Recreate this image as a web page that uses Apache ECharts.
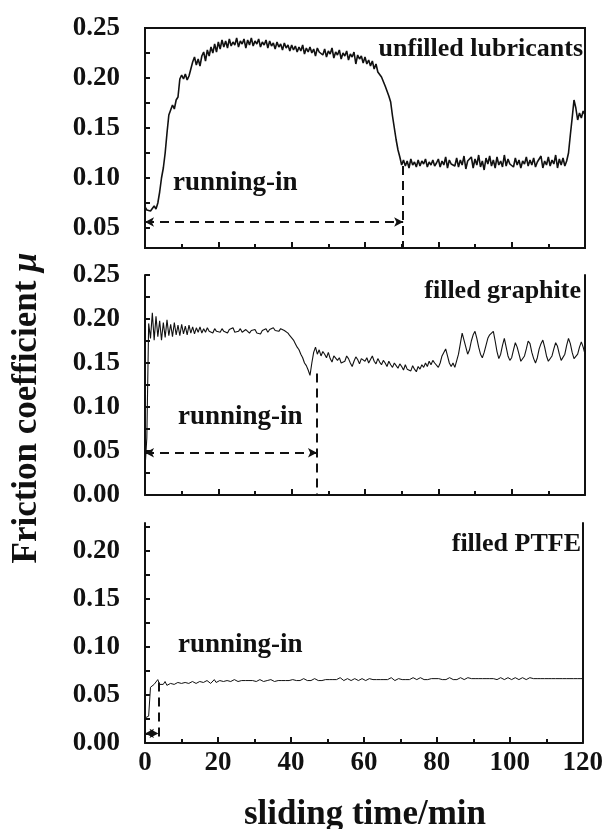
<!DOCTYPE html>
<html>
<head>
<meta charset="utf-8">
<script src="https://cdn.jsdelivr.net/npm/echarts@6/dist/echarts.min.js"></script>
<style>
html,body{margin:0;padding:0;background:#fff;}
#c{width:606px;height:829px;}
</style>
</head>
<body>
<div id="c"></div>
<script>
// ---- data (sampled every 0.5 min, from t = 0 to 120 min) ----
var timeStart = 0;
var timeStep = 0.5;

var unfilledLubricants = [
0.071,0.068,0.070,0.067,0.069,0.072,0.069,0.075,0.086,0.100,
0.110,0.125,0.145,0.163,0.168,0.173,0.169,0.178,0.181,0.199,
0.203,0.199,0.204,0.198,0.202,0.200,0.216,0.221,0.213,0.219,
0.212,0.222,0.226,0.217,0.228,0.222,0.231,0.225,0.234,0.226,
0.236,0.229,0.238,0.231,0.237,0.230,0.239,0.232,0.236,0.233,
0.240,0.231,0.237,0.234,0.239,0.230,0.238,0.233,0.240,0.232,
0.237,0.234,0.239,0.231,0.236,0.233,0.238,0.230,0.237,0.232,
0.235,0.229,0.236,0.231,0.234,0.228,0.235,0.230,0.233,0.227,
0.233,0.228,0.232,0.226,0.231,0.227,0.233,0.224,0.230,0.226,
0.231,0.225,0.229,0.222,0.230,0.226,0.228,0.223,0.229,0.221,
0.227,0.224,0.230,0.220,0.226,0.223,0.228,0.219,0.225,0.222,
0.227,0.218,0.224,0.221,0.226,0.214,0.223,0.219,0.222,0.215,
0.221,0.214,0.218,0.212,0.217,0.209,0.214,0.206,0.208,0.201,
0.199,0.192,0.190,0.182,0.176,0.162,0.150,0.138,0.128,0.121,
0.113,0.118,0.112,0.117,0.110,0.119,0.113,0.116,0.111,0.118,
0.112,0.117,0.114,0.119,0.111,0.116,0.113,0.118,0.112,0.115,
0.119,0.111,0.117,0.113,0.121,0.110,0.118,0.114,0.116,0.112,
0.120,0.111,0.118,0.113,0.122,0.109,0.117,0.115,0.121,0.110,
0.119,0.113,0.123,0.111,0.117,0.108,0.120,0.114,0.122,0.112,
0.118,0.110,0.121,0.113,0.117,0.111,0.123,0.112,0.119,0.114,
0.116,0.111,0.120,0.113,0.118,0.110,0.117,0.114,0.121,0.112,
0.118,0.113,0.120,0.111,0.116,0.114,0.122,0.110,0.117,0.113,
0.121,0.112,0.118,0.114,0.123,0.110,0.119,0.113,0.120,0.112,
0.117,0.125,0.143,0.160,0.178,0.170,0.158,0.165,0.160,0.167,
0.163
];

var filledGraphite = [
0.030,0.065,0.195,0.178,0.207,0.176,0.203,0.180,0.198,0.176,
0.196,0.179,0.199,0.181,0.194,0.180,0.196,0.182,0.193,0.181,
0.194,0.183,0.192,0.182,0.193,0.184,0.191,0.183,0.190,0.185,
0.191,0.184,0.189,0.185,0.190,0.186,0.188,0.184,0.189,0.186,
0.188,0.185,0.189,0.186,0.187,0.184,0.188,0.186,0.190,0.185,
0.187,0.186,0.189,0.185,0.187,0.188,0.186,0.184,0.187,0.185,
0.188,0.184,0.186,0.183,0.187,0.186,0.189,0.185,0.188,0.186,
0.190,0.187,0.188,0.186,0.189,0.190,0.187,0.185,0.184,0.181,
0.180,0.176,0.172,0.168,0.165,0.160,0.156,0.150,0.147,0.142,
0.136,0.150,0.162,0.168,0.160,0.165,0.158,0.163,0.160,0.156,
0.162,0.155,0.151,0.158,0.160,0.153,0.156,0.150,0.148,0.152,
0.158,0.155,0.150,0.146,0.152,0.157,0.154,0.149,0.155,0.157,
0.152,0.156,0.150,0.154,0.158,0.152,0.149,0.155,0.151,0.148,
0.153,0.150,0.146,0.152,0.148,0.145,0.150,0.147,0.144,0.149,
0.146,0.142,0.148,0.143,0.145,0.141,0.147,0.143,0.140,0.146,
0.143,0.148,0.145,0.150,0.146,0.152,0.148,0.153,0.150,0.151,
0.145,0.150,0.158,0.162,0.166,0.158,0.150,0.146,0.150,0.145,
0.147,0.160,0.172,0.184,0.176,0.168,0.160,0.165,0.175,0.182,
0.186,0.178,0.168,0.160,0.156,0.162,0.170,0.178,0.182,0.184,
0.186,0.175,0.163,0.155,0.160,0.170,0.178,0.168,0.158,0.153,
0.156,0.165,0.173,0.168,0.160,0.152,0.151,0.158,0.166,0.175,
0.172,0.162,0.155,0.150,0.156,0.166,0.172,0.176,0.168,0.158,
0.152,0.150,0.158,0.166,0.173,0.169,0.160,0.153,0.152,0.160,
0.170,0.178,0.172,0.162,0.155,0.153,0.160,0.168,0.174,0.168,
0.160
];

var filledPTFE = [
0.026,0.026,0.028,0.058,0.060,0.061,0.060,0.066,0.061,0.059,
0.061,0.064,0.060,0.059,0.062,0.064,0.061,0.060,0.063,0.065,
0.062,0.060,0.063,0.065,0.062,0.061,0.064,0.065,0.062,0.061,
0.064,0.066,0.063,0.062,0.065,0.064,0.062,0.064,0.066,0.063,
0.063,0.065,0.066,0.064,0.063,0.065,0.066,0.064,0.064,0.066,
0.065,0.064,0.066,0.065,0.064,0.065,0.066,0.065,0.064,0.065,
0.066,0.064,0.065,0.066,0.065,0.064,0.066,0.065,0.065,0.066,
0.065,0.064,0.066,0.065,0.066,0.065,0.064,0.065,0.066,0.065,
0.065,0.066,0.067,0.065,0.066,0.065,0.066,0.067,0.066,0.065,
0.066,0.065,0.066,0.067,0.066,0.065,0.066,0.065,0.067,0.066,
0.065,0.066,0.067,0.066,0.065,0.066,0.067,0.068,0.066,0.065,
0.066,0.067,0.066,0.065,0.066,0.067,0.066,0.065,0.066,0.067,
0.066,0.065,0.066,0.067,0.068,0.066,0.065,0.066,0.067,0.066,
0.065,0.066,0.067,0.066,0.067,0.068,0.066,0.065,0.066,0.067,
0.068,0.066,0.067,0.066,0.065,0.066,0.067,0.068,0.067,0.066,
0.067,0.068,0.067,0.066,0.067,0.066,0.065,0.067,0.068,0.067,
0.066,0.067,0.068,0.066,0.067,0.066,0.067,0.068,0.067,0.066,
0.067,0.066,0.067,0.068,0.067,0.066,0.067,0.068,0.066,0.067,
0.068,0.067,0.066,0.067,0.068,0.067,0.066,0.067,0.068,0.067,
0.066,0.067,0.068,0.066,0.067,0.068,0.067,0.066,0.067,0.068,
0.067,0.066,0.067,0.068,0.067,0.066,0.067,0.068,0.067,0.066,
0.067,0.068,0.066,0.067,0.068,0.067,0.066,0.067,0.068,0.067,
0.066,0.067,0.068,0.067,0.066,0.067,0.068,0.067,0.066,0.067,
0.068,0.067,0.066,0.067,0.068,0.067,0.066,0.067,0.068,0.067,
0.067
];

// axis ranges and ticks
var xTicks = [0, 20, 40, 60, 80, 100, 120];
var yRange1 = [0.03, 0.25];
var yRange2 = [0, 0.25];
var yRange3 = [0, 0.229];
var yLabels1 = [0.05, 0.10, 0.15, 0.20, 0.25];
var yLabels2 = [0.00, 0.05, 0.10, 0.15, 0.20, 0.25];
var yLabels3 = [0.00, 0.05, 0.10, 0.15, 0.20];
var yTicks1 = [0.05, 0.075, 0.10, 0.125, 0.15, 0.175, 0.20, 0.225, 0.25];
var yTicks2 = [0.00, 0.025, 0.05, 0.075, 0.10, 0.125, 0.15, 0.175, 0.20, 0.225, 0.25];
var yTicks3 = [0.00, 0.025, 0.05, 0.075, 0.10, 0.125, 0.15, 0.175, 0.20, 0.225];

// running-in markers: [end time, arrow level, vertical top]
var runIn1 = [70.4, 0.056, 0.112];
var runIn2 = [46.9, 0.048, 0.138];
var runIn3 = [3.7, 0.010, 0.063];

var panelTitles = ['unfilled lubricants', 'filled graphite', 'filled PTFE'];

function toPairs(arr) {
  var out = [];
  for (var i = 0; i < arr.length; i++) out.push([timeStart + i * timeStep, arr[i]]);
  return out;
}

var FONT = '"Liberation Serif", "Times New Roman", serif';
var black = '#111';

var grids = [
  {left: 145, top: 28, width: 440, height: 220, show: true, borderColor: black, borderWidth: 2, backgroundColor: 'transparent'},
  {left: 145, top: 275, width: 440, height: 220},
  {left: 145, top: 523, width: 440, height: 220}
];

function xAxisFor(i, showLabels) {
  return {
    type: 'value', gridIndex: i, min: 0, max: 120, interval: 20,
    axisLine: {show: true, onZero: false, lineStyle: {color: black, width: 2}},
    axisTick: {show: true, inside: true, length: 6, lineStyle: {color: black, width: 2}},
    minorTick: {show: true, splitNumber: 2, length: 4, lineStyle: {color: black, width: 2}},
    splitLine: {show: false},
    axisLabel: {show: showLabels, margin: 7, color: black, fontFamily: FONT, fontWeight: 'bold', fontSize: 27,
      formatter: function (v) { return String(v); }}
  };
}
function yAxisFor(i, range, labels, ticks) {
  return {
    type: 'value', gridIndex: i, min: range[0], max: range[1], position: 'left',
    axisLine: {show: true, onZero: false, lineStyle: {color: black, width: 2}},
    axisTick: {show: true, inside: true, length: 5, customValues: ticks, lineStyle: {color: black, width: 2}},
    splitLine: {show: false},
    axisLabel: {show: true, margin: 25, color: black, fontFamily: FONT, fontWeight: 'bold', fontSize: 27,
      customValues: labels, formatter: function (v) { return v.toFixed(2); }}
  };
}
function rightAxisFor(i, range) {
  return {
    type: 'value', gridIndex: i, min: range[0], max: range[1], position: 'right',
    axisLine: {show: true, onZero: false, lineStyle: {color: black, width: 2}},
    axisTick: {show: false}, axisLabel: {show: false}, splitLine: {show: false}
  };
}

function runInMark(r, yBottom) {
  var dash = [9, 6];
  return {
    silent: true, animation: false,
    label: {show: false},
    symbolSize: [7, 9],
    lineStyle: {color: black, width: 2, type: dash},
    data: [
      [{coord: [0, r[1]], symbol: 'arrow'}, {coord: [r[0], r[1]], symbol: 'arrow'}],
      [{coord: [r[0], r[2]], symbol: 'none'}, {coord: [r[0], yBottom], symbol: 'none'}]
    ]
  };
}

function lineSeries(i, arr, w, mark) {
  return {
    type: 'line', xAxisIndex: i, yAxisIndex: i, data: toPairs(arr),
    showSymbol: false, symbol: 'none', smooth: false,
    lineStyle: {color: black, width: w}, clip: true,
    markLine: mark
  };
}

var chart = echarts.init(document.getElementById('c'), null, {renderer: 'canvas'});
chart.setOption({
  animation: false,
  backgroundColor: '#fff',
  grid: grids,
  xAxis: [xAxisFor(0, false), xAxisFor(1, false), xAxisFor(2, true)],
  yAxis: [
    yAxisFor(0, yRange1, yLabels1, yTicks1),
    yAxisFor(1, yRange2, yLabels2, yTicks2),
    yAxisFor(2, yRange3, yLabels3, yTicks3),
    rightAxisFor(1, yRange2),
    rightAxisFor(2, yRange3)
  ],
  series: [
    lineSeries(0, unfilledLubricants, 1.6, runInMark(runIn1, yRange1[0])),
    lineSeries(1, filledGraphite, 1.1, runInMark(runIn2, yRange2[0])),
    lineSeries(2, filledPTFE, 1, runInMark(runIn3, yRange3[0]))
  ],
  graphic: [
    {type: 'text', right: 606 - 583, top: 36, style: {text: panelTitles[0], fill: black, font: 'bold 26px ' + FONT}},
    {type: 'text', right: 606 - 581, top: 278, style: {text: panelTitles[1], fill: black, font: 'bold 26px ' + FONT}},
    {type: 'text', right: 606 - 581, top: 531, style: {text: panelTitles[2], fill: black, font: 'bold 26px ' + FONT}},
    {type: 'text', left: 173, top: 170, style: {text: 'running-in', fill: black, font: 'bold 27px ' + FONT}},
    {type: 'text', left: 178, top: 404, style: {text: 'running-in', fill: black, font: 'bold 27px ' + FONT}},
    {type: 'text', left: 178, top: 632, style: {text: 'running-in', fill: black, font: 'bold 27px ' + FONT}},
    {type: 'text', x: 365, y: 815, style: {text: 'sliding time/min', fill: black, font: 'bold 35px ' + FONT, align: 'center', verticalAlign: 'middle'}},
    {type: 'text', x: 27, y: 408, rotation: Math.PI / 2,
      style: {text: '{a|Friction coefficient }{b|μ}', align: 'center', verticalAlign: 'middle', fill: black,
        rich: {
          a: {fontFamily: FONT, fontWeight: 'bold', fontSize: 35, fill: black},
          b: {fontFamily: FONT, fontWeight: 'bold', fontStyle: 'italic', fontSize: 35, fill: black}
        }}}
  ]
});
</script>
</body>
</html>
